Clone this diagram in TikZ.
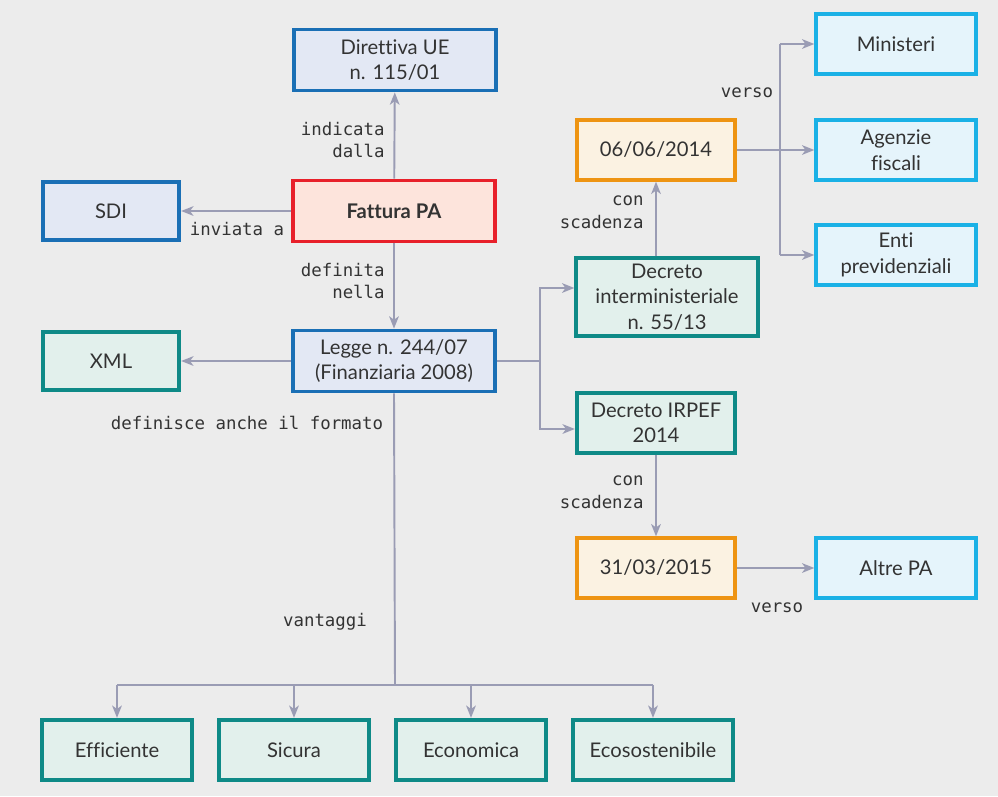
\documentclass[tikz,border=0pt]{standalone}
\usepackage{fontspec}
\setmainfont{Lato}[Ligatures=NoCommon]
\newfontfamily\labelfont{DejaVu Sans Mono}
\usetikzlibrary{positioning, arrows.meta, calc}

\definecolor{bgcol}{HTML}{ECECEC}
\definecolor{linecol}{HTML}{9A9CB4}
\definecolor{textcol}{HTML}{333333}
\definecolor{bluecol}{HTML}{1A6FB5}
\definecolor{bluefill}{HTML}{E3E8F4}
\definecolor{redcol}{HTML}{E8202A}
\definecolor{redfill}{HTML}{FDE4DC}
\definecolor{tealcol}{HTML}{0E8A87}
\definecolor{tealfill}{HTML}{E2F0EC}
\definecolor{orangecol}{HTML}{EE9412}
\definecolor{orangefill}{HTML}{FBF2E2}
\definecolor{cyancol}{HTML}{1AB1E6}
\definecolor{cyanfill}{HTML}{E5F4FB}

\tikzset{
  box/.style={draw, line width=2.2pt, inner sep=2pt, align=center, text=textcol,
    font=\fontsize{11.5}{14.5}\selectfont},
  bluebox/.style={box, draw=bluecol, fill=bluefill},
  redbox/.style={box, draw=redcol, fill=redfill},
  tealbox/.style={box, draw=tealcol, fill=tealfill},
  orangebox/.style={box, draw=orangecol, fill=orangefill},
  cyanbox/.style={box, draw=cyancol, fill=cyanfill, minimum width=3.19cm, minimum height=1.19cm},
  widebox/.style={minimum width=4.05cm, minimum height=1.22cm},
  smallbox/.style={minimum width=2.73cm, minimum height=1.17cm},
  datebox/.style={minimum width=3.17cm, minimum height=1.19cm},
  footbox/.style={tealbox, minimum width=2.99cm, minimum height=1.21cm},
  conn/.style={draw=linecol, line width=1.1pt},
  arr/.style={conn, -{Stealth[length=7pt, width=5.5pt, inset=2pt]}},
  lbl/.style={text=textcol, font=\labelfont\fontsize{9.9}{13}\selectfont, inner sep=0pt}
}

\begin{document}
\begin{tikzpicture}[x=0.02cm, y=-0.02cm]
  \fill[bgcol] (0,0) rectangle (998,796);
  \useasboundingbox (0,0) rectangle (998,796);

  % main column
  \node[bluebox, widebox] (dir) at (395,60) {Direttiva UE\\n. 115/01};
  \node[redbox, widebox, font=\fontsize{11.5}{14.5}\selectfont\bfseries] (fatt) at (394,211) {Fattura PA};
  \node[bluebox, widebox] (legge) at (394,361) {Legge n. 244/07\\(Finanziaria 2008)};
  \node[bluebox, smallbox] (sdi) at (111,211) {SDI};
  \node[tealbox, smallbox] (xml) at (111,361) {XML};

  % decrees and deadlines
  \node[orangebox, datebox] (d1) at (656,150) {06/06/2014};
  \node[tealbox, minimum width=3.63cm, minimum height=1.55cm] (dint) at (667,297) {Decreto\\interministeriale\\n. 55/13};
  \node[tealbox, datebox] (irpef) at (656,423) {Decreto IRPEF\\2014};
  \node[orangebox, datebox] (d2) at (656,568) {31/03/2015};

  % recipients
  \node[cyanbox] (min) at (896,44) {Ministeri};
  \node[cyanbox] (agen) at (896,150) {Agenzie\\fiscali};
  \node[cyanbox] (enti) at (896,255) {Enti\\previdenziali};
  \node[cyanbox] (altre) at (896,568) {Altre PA};

  % advantages
  \node[footbox] (eff) at (117,750) {Efficiente};
  \node[footbox] (sic) at (294,750) {Sicura};
  \node[footbox] (econ) at (471,750) {Economica};
  \node[footbox, minimum width=3.21cm] (ecos) at (653,750) {Ecosostenibile};

  % connectors
  \draw[arr] (fatt) -- (dir);
  \draw[arr] (fatt) -- (sdi);
  \draw[arr] (fatt) -- (legge);
  \draw[arr] (legge) -- (xml);

  \coordinate (split) at (540,361);
  \draw[conn] (legge.east) -- (split);
  \draw[arr] (split) |- ($(dint.west)+(0,-9)$);
  \draw[arr] (split) |- ($(irpef.west)+(0,6)$);
  \draw[arr] (dint.north -| d1) -- (d1.south);
  \draw[arr] (irpef) -- (d2);

  \coordinate (vtop) at (780,44);
  \coordinate (vbot) at (780,255);
  \draw[conn] (vtop) -- (vbot);
  \draw[arr] (vtop) -- (min.west);
  \draw[arr] (vbot) -- (enti.west);
  \draw[arr] (d1.east) -- (agen.west);
  \draw[arr] (d2.east) -- (altre.west);

  \coordinate (fork) at (395,685);
  \draw[conn] (legge.south) -- (fork);
  \draw[conn] (eff.north |- fork) -- (ecos.north |- fork);
  \foreach \b in {eff, sic, econ, ecos}
    \draw[arr] (\b.north |- fork) -- (\b.north);

  % labels
  \node[lbl, align=right, anchor=east] (l1) at (385,140) {indicata\\dalla};
  \node[lbl] (l2) at (237,229) {inviata a};
  \node[lbl, align=right, anchor=east] (l3) at (385,281) {definita\\nella};
  \node[lbl] (l4) at (247,423) {definisce anche il formato};
  \node[lbl, align=right, anchor=east] (l5) at (644,212) {con\\scadenza};
  \node[lbl, align=right, anchor=east] (l6) at (644,492) {con\\scadenza};
  \node[lbl] (l7) at (747,93) {verso};
  \node[lbl] (l8) at (777,608) {verso};
  \node[lbl] (l9) at (325,622) {vantaggi};
\end{tikzpicture}
\end{document}
